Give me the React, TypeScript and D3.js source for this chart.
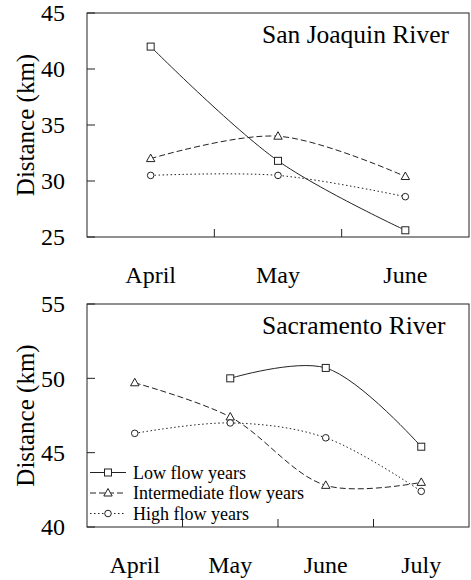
import React, { useEffect, useRef } from 'react';
import * as d3 from 'd3';

const topMonths = ['April', 'May', 'June'];
const topLow = [42.0, 31.8, 25.6];
const topMid = [32.0, 34.0, 30.4];
const topHigh = [30.5, 30.5, 28.6];
const topTicks = [25, 30, 35, 40, 45];

const botMonths = ['April', 'May', 'June', 'July'];
const botLow: (number | null)[] = [null, 50.0, 50.7, 45.4];
const botMid = [49.7, 47.4, 42.8, 43.0];
const botHigh = [46.3, 47.0, 46.0, 42.4];
const botTicks = [40, 45, 50, 55];

const seriesNames = ['Low flow years', 'Intermediate flow years', 'High flow years'];
const markers = ['square', 'triangle', 'circle'];
const dashes = ['none', '6,3', '1.5,2.5'];

const FONT = '"Liberation Serif", "Times New Roman", serif';
const INK = '#222';

interface PanelSpec {
  title: string;
  months: string[];
  series: (number | null)[][];
  ticks: number[];
  top: number;
  bottom: number;
  legend: boolean;
}

const panels: PanelSpec[] = [
  { title: 'San Joaquin River', months: topMonths, series: [topLow, topMid, topHigh], ticks: topTicks, top: 13, bottom: 237, legend: false },
  { title: 'Sacramento River', months: botMonths, series: [botLow, botMid, botHigh], ticks: botTicks, top: 304, bottom: 527, legend: true },
];

function drawMarker(g: d3.Selection<SVGGElement, unknown, null, undefined>, kind: string, x: number, y: number) {
  if (kind === 'square') {
    g.append('rect').attr('x', x - 3.5).attr('y', y - 3.5).attr('width', 7).attr('height', 7)
      .attr('fill', '#fff').attr('stroke', INK).attr('stroke-width', 1);
  } else if (kind === 'triangle') {
    g.append('path').attr('d', `M${x},${y - 4.5}L${x + 4.2},${y + 3}L${x - 4.2},${y + 3}Z`)
      .attr('fill', '#fff').attr('stroke', INK).attr('stroke-width', 1);
  } else {
    g.append('circle').attr('cx', x).attr('cy', y).attr('r', 3.3)
      .attr('fill', '#fff').attr('stroke', INK).attr('stroke-width', 1);
  }
}

export default function App() {
  const svgRef = useRef<SVGSVGElement>(null);

  useEffect(() => {
    if (!svgRef.current) return;
    const svg = d3.select(svgRef.current);
    svg.selectAll('*').remove();

    const left = 87;
    const right = 469;

    panels.forEach((p) => {
      const g = svg.append('g');
      const x = d3.scaleBand<string>().domain(p.months).range([left, right]).padding(0);
      const cx = (m: string) => (x(m) as number) + x.bandwidth() / 2;
      const y = d3.scaleLinear()
        .domain([p.ticks[0], p.ticks[p.ticks.length - 1]])
        .range([p.bottom, p.top]);

      // frame
      g.append('rect')
        .attr('x', left).attr('y', p.top)
        .attr('width', right - left).attr('height', p.bottom - p.top)
        .attr('fill', 'none').attr('stroke', INK).attr('stroke-width', 1);

      // y ticks
      p.ticks.forEach((t) => {
        g.append('line')
          .attr('x1', left).attr('x2', left + 8)
          .attr('y1', y(t)).attr('y2', y(t))
          .attr('stroke', INK);
        g.append('text')
          .attr('x', left - 22).attr('y', y(t))
          .attr('dy', '0.35em')
          .attr('text-anchor', 'end')
          .attr('font-family', FONT).attr('font-size', 24)
          .attr('fill', '#000')
          .text(t);
      });

      // x ticks between categories
      p.months.slice(1).forEach((m) => {
        const xt = x(m) as number;
        g.append('line')
          .attr('x1', xt).attr('x2', xt)
          .attr('y1', p.bottom).attr('y2', p.bottom - 8)
          .attr('stroke', INK);
      });

      p.months.forEach((m) => {
        g.append('text')
          .attr('x', cx(m)).attr('y', p.bottom + 46)
          .attr('text-anchor', 'middle')
          .attr('font-family', FONT).attr('font-size', 24)
          .attr('fill', '#000')
          .text(m);
      });

      g.append('text')
        .attr('transform', `translate(34,${(p.top + p.bottom) / 2}) rotate(-90)`)
        .attr('text-anchor', 'middle')
        .attr('font-family', FONT).attr('font-size', 25)
        .attr('fill', '#000')
        .text('Distance (km)');

      g.append('text')
        .attr('x', 262).attr('y', p.top + 30)
        .attr('font-family', FONT).attr('font-size', 25.5)
        .attr('fill', '#000')
        .text(p.title);

      p.series.forEach((vals, si) => {
        const pts = p.months
          .map((m, i) => ({ m, v: vals[i] }))
          .filter((d) => d.v !== null) as { m: string; v: number }[];
        const line = d3.line<{ m: string; v: number }>()
          .x((d) => cx(d.m))
          .y((d) => y(d.v))
          .curve(d3.curveCatmullRom.alpha(0.5));
        g.append('path')
          .datum(pts)
          .attr('d', line)
          .attr('fill', 'none')
          .attr('stroke', INK)
          .attr('stroke-width', 1)
          .attr('stroke-dasharray', dashes[si]);
        pts.forEach((d) => drawMarker(g, markers[si], cx(d.m), y(d.v)));
      });

      if (p.legend) {
        const lg = g.append('g');
        seriesNames.forEach((name, i) => {
          const ly = 472.5 + i * 20.5;
          lg.append('line')
            .attr('x1', 90).attr('x2', 126)
            .attr('y1', ly).attr('y2', ly)
            .attr('stroke', INK).attr('stroke-width', 1)
            .attr('stroke-dasharray', dashes[i]);
          drawMarker(lg, markers[i], 108, ly);
          lg.append('text')
            .attr('x', 133).attr('y', ly + 6)
            .attr('font-family', FONT).attr('font-size', 18)
            .attr('fill', '#000')
            .text(name);
        });
      }
    });
  }, []);

  return (
    <svg
      ref={svgRef}
      width={471}
      height={580}
      style={{ position: 'absolute', left: 0, top: 0, background: '#fff' }}
    />
  );
}
